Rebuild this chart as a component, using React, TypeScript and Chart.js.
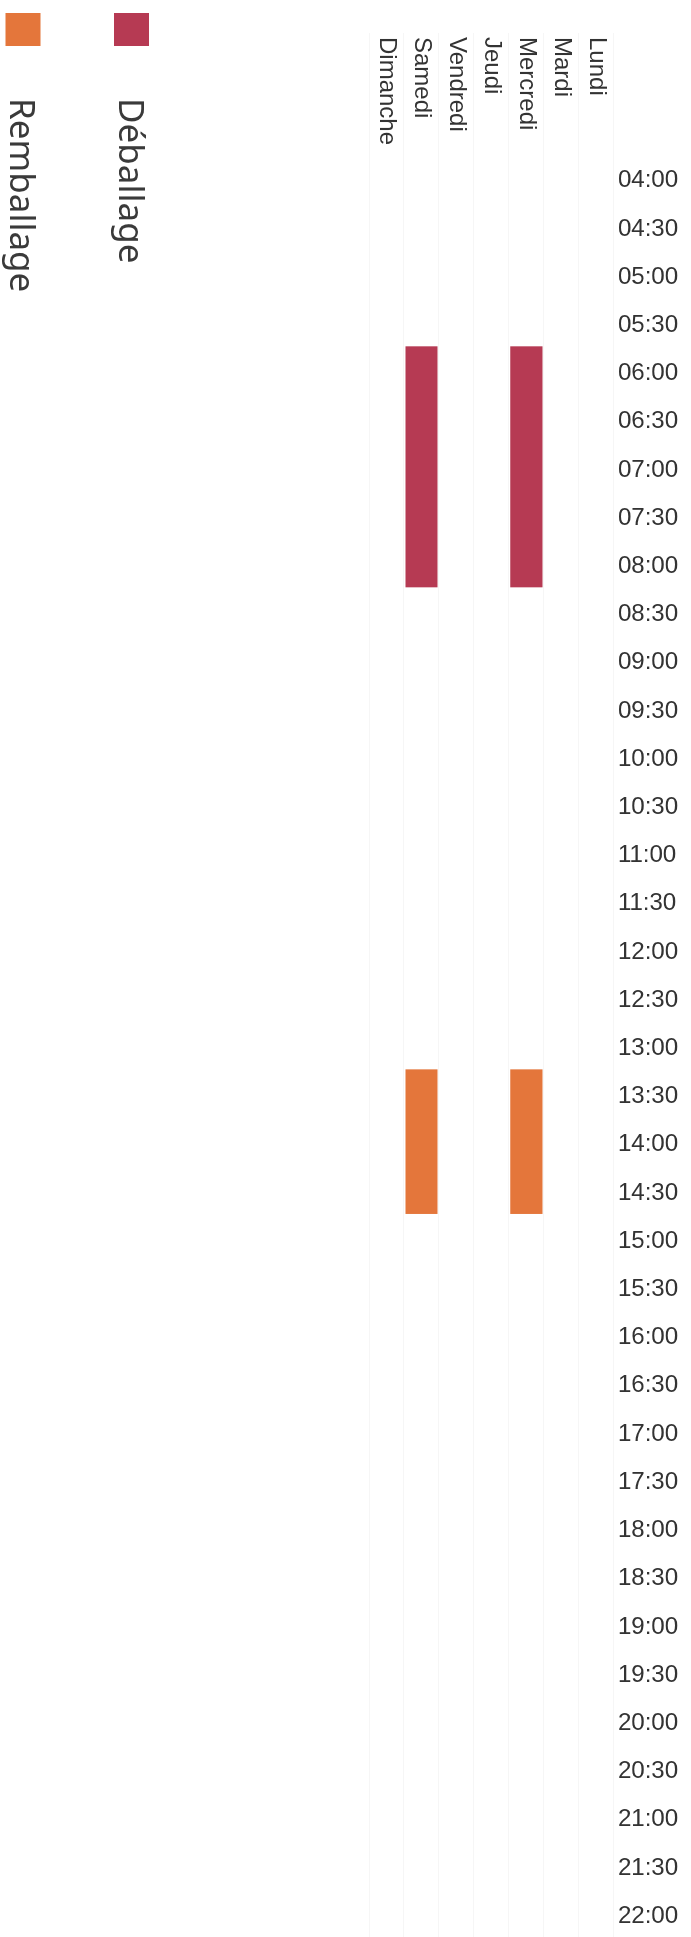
import React, { useEffect, useRef } from 'react';
import { Chart, registerables } from 'chart.js';

Chart.register(...registerables);

const DAYS = ['Lundi', 'Mardi', 'Mercredi', 'Jeudi', 'Vendredi', 'Samedi', 'Dimanche'];

const TIME_LABELS = [
  '04:00', '04:30', '05:00', '05:30', '06:00', '06:30', '07:00', '07:30',
  '08:00', '08:30', '09:00', '09:30', '10:00', '10:30', '11:00', '11:30',
  '12:00', '12:30', '13:00', '13:30', '14:00', '14:30', '15:00', '15:30',
  '16:00', '16:30', '17:00', '17:30', '18:00', '18:30', '19:00', '19:30',
  '20:00', '20:30', '21:00', '21:30', '22:00',
];

// first and last half-hour slot of each activity, per day (null = none)
const DEBALLAGE_START = [null, null, '06:00', null, null, '06:00', null];
const DEBALLAGE_END = [null, null, '08:00', null, null, '08:00', null];
const REMBALLAGE_START = [null, null, '13:30', null, null, '13:30', null];
const REMBALLAGE_END = [null, null, '14:30', null, null, '14:30', null];

const SERIES_LABELS = ['Déballage', 'Remballage'];
const SERIES_COLORS = ['#b63a53', '#e4763b'];

const TEXT_COLOR = '#333333';
const AXIS_FONT = '"Liberation Sans", Arial, sans-serif';
const LEGEND_FONT = '"Noto Sans", "Open Sans", sans-serif';

function slotRanges(starts: (string | null)[], ends: (string | null)[]) {
  return starts.map((s, i) => {
    const e = ends[i];
    if (s == null || e == null) return null;
    return [TIME_LABELS.indexOf(s) - 0.5, TIME_LABELS.indexOf(e) + 0.5];
  });
}

const legendPlugin = {
  id: 'stackedLegend',
  afterDraw(chart: any) {
    const ctx = chart.ctx;
    const H = chart.height;
    const rowCenters = [H - 131.5, H - 23];
    ctx.save();
    chart.data.datasets.forEach((ds: any, i: number) => {
      const cy = rowCenters[i];
      ctx.fillStyle = ds.backgroundColor;
      ctx.fillRect(13, cy - 17.5, 33, 35);
      ctx.fillStyle = '#3a3a3a';
      ctx.font = `35px ${LEGEND_FONT}`;
      ctx.textAlign = 'left';
      ctx.textBaseline = 'alphabetic';
      ctx.fillText(ds.label, 98, cy + 12.5);
    });
    ctx.restore();
  },
};

export default function App() {
  const ref = useRef<HTMLCanvasElement>(null);

  useEffect(() => {
    if (!ref.current) return;
    const chart = new Chart(ref.current, {
      type: 'bar',
      data: {
        labels: DAYS,
        datasets: [
          {
            label: SERIES_LABELS[0],
            data: slotRanges(DEBALLAGE_START, DEBALLAGE_END) as any,
            backgroundColor: SERIES_COLORS[0],
            borderWidth: 0,
            grouped: false,
            barPercentage: 0.92,
            categoryPercentage: 1,
          },
          {
            label: SERIES_LABELS[1],
            data: slotRanges(REMBALLAGE_START, REMBALLAGE_END) as any,
            backgroundColor: SERIES_COLORS[1],
            borderWidth: 0,
            grouped: false,
            barPercentage: 0.92,
            categoryPercentage: 1,
          },
        ],
      },
      options: {
        indexAxis: 'y',
        responsive: false,
        animation: false,
        layout: { padding: { left: 25, top: 9, right: 0, bottom: 369 } },
        plugins: {
          legend: { display: false },
          tooltip: { enabled: false },
        },
        scales: {
          x: {
            type: 'linear',
            position: 'top',
            min: -3,
            max: 36.5,
            afterBuildTicks: (axis: any) => {
              axis.ticks = TIME_LABELS.map((_, i) => ({ value: i }));
            },
            ticks: {
              autoSkip: false,
              minRotation: 90,
              maxRotation: 90,
              padding: 4,
              labelOffset: 32,
              color: TEXT_COLOR,
              font: { family: AXIS_FONT, size: 24 },
              callback: (v: any) => TIME_LABELS[v] ?? '',
            },
            grid: { display: false, drawTicks: false },
            border: { display: false },
          },
          y: {
            position: 'left',
            ticks: {
              mirror: true,
              padding: 4,
              color: TEXT_COLOR,
              font: { family: AXIS_FONT, size: 24 },
            },
            grid: { color: 'rgba(0,0,0,0.035)', drawTicks: false, offset: true },
            border: { display: false },
          },
        },
      } as any,
      plugins: [legendPlugin],
    });
    return () => chart.destroy();
  }, []);

  return (
    <div
      style={{
        position: 'absolute',
        left: 0,
        top: 0,
        width: 691,
        height: 1937,
        overflow: 'hidden',
        background: '#ffffff',
      }}
    >
      <div
        style={{
          position: 'absolute',
          left: 0,
          top: 0,
          width: 1937,
          height: 691,
          transformOrigin: '0 0',
          transform: 'translateX(691px) rotate(90deg)',
        }}
      >
        <canvas ref={ref} width={1937} height={691} style={{ display: 'block', width: 1937, height: 691 }} />
      </div>
    </div>
  );
}
